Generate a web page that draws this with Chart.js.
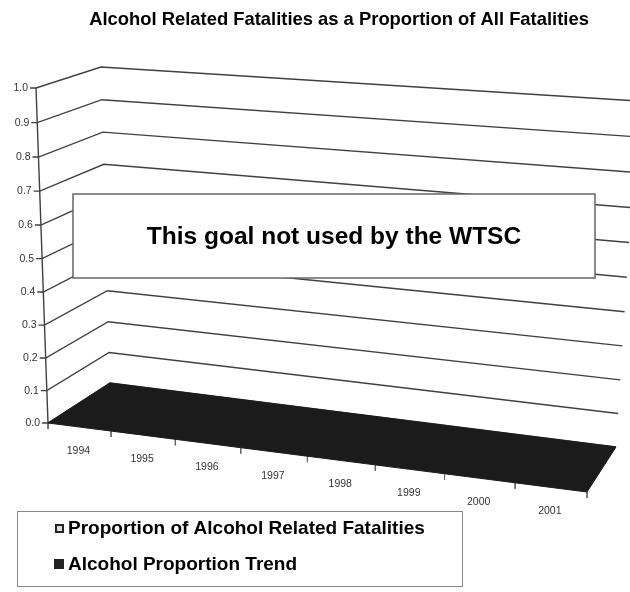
<!DOCTYPE html>
<html>
<head>
<meta charset="utf-8">
<title>Alcohol Related Fatalities as a Proportion of All Fatalities</title>
<script src="https://cdn.jsdelivr.net/npm/chart.js@4.4.1/dist/chart.umd.min.js"></script>
<style>
  html, body { margin: 0; padding: 0; background: #fff; }
  .chart-box { position: relative; width: 630px; height: 592px; }
</style>
</head>
<body>
<div class="chart-box"><canvas id="fatalityChart"></canvas></div>
<script>
const TITLE = 'Alcohol Related Fatalities as a Proportion of All Fatalities';
const NOTE = 'This goal not used by the WTSC';

const years = ['1994', '1995', '1996', '1997', '1998', '1999', '2000', '2001'];
const valueTicks = [0.0, 0.1, 0.2, 0.3, 0.4, 0.5, 0.6, 0.7, 0.8, 0.9, 1.0];
const seriesNames = ['Proportion of Alcohol Related Fatalities', 'Alcohol Proportion Trend'];
// no yearly proportions were reported, the trend sits on the floor
const proportionValues = [null, null, null, null, null, null, null, null];
const trendValues = [0, 0, 0, 0, 0, 0, 0, 0];

// screen corners of the 3D plot box, at value 0 (lo) and at the top value (hi)
const FRONT_LEFT = { lo: [48, 423], hi: [36, 88] };
const BACK_LEFT = { lo: [110, 383], hi: [101, 67] };
const FRONT_RIGHT = { lo: [587, 492], hi: [609, 136] };
const BACK_RIGHT = { lo: [616, 447], hi: [638, 101] };
const DEPTH_K = 0.072; // foreshortening along the year axis
const RISE_K = 0.037;  // foreshortening along the value axis
const VALUE_MAX = valueTicks[valueTicks.length - 1];

const INK = '#404040';
const FONT = '"Liberation Sans", Arial, sans-serif';

function ease(s, k) { return s * (1 - k) / (1 - k * s); }
function lerp(a, b, t) { return [a[0] + (b[0] - a[0]) * t, a[1] + (b[1] - a[1]) * t]; }

// c: position along the years (0..years.length), d: depth 0 front .. 1 back, v: value
function project(c, d, v) {
  const u = ease(c / years.length, DEPTH_K);
  const w = ease(v / VALUE_MAX, RISE_K);
  const edge = e => lerp(e.lo, e.hi, w);
  const front = lerp(edge(FRONT_LEFT), edge(FRONT_RIGHT), u);
  const back = lerp(edge(BACK_LEFT), edge(BACK_RIGHT), u);
  const p = lerp(front, back, d);
  return { x: p[0], y: p[1] };
}

function lineSet(points, color, width) {
  return {
    data: points,
    showLine: true,
    borderColor: color,
    borderWidth: width,
    pointRadius: 0,
    fill: false,
    tension: 0
  };
}

// trend area: ribbon through the year centres, spanning the full depth
function trendShape() {
  const n = years.length;
  const front = [project(0, 0, trendValues[0])];
  years.forEach((y, i) => front.push(project(i + 0.5, 0, trendValues[i])));
  front.push(project(n, 0, trendValues[n - 1]));
  const back = [project(n, 1, trendValues[n - 1])];
  for (let i = n - 1; i >= 0; i--) back.push(project(i + 0.5, 1, trendValues[i]));
  back.push(project(0, 1, trendValues[0]));
  return [...front, ...back, front[0]];
}

const datasets = [];

datasets.push({
  label: seriesNames[1],
  data: trendShape(),
  showLine: true,
  borderColor: '#1b1b1b',
  backgroundColor: '#1b1b1b',
  borderWidth: 1,
  pointRadius: 0,
  fill: 'shape',
  tension: 0
});

datasets.push({
  label: seriesNames[0],
  data: proportionValues.map((v, i) => v === null ? { x: null, y: null } : project(i + 0.5, 0.5, v)),
  showLine: false,
  pointRadius: 3,
  backgroundColor: '#fff',
  borderColor: '#222'
});

// front value axis
datasets.push(lineSet([project(0, 0, 0), project(0, 0, VALUE_MAX)], INK, 1.4));

// gridlines: tick, side wall, back wall
valueTicks.forEach(t => {
  const a = project(0, 0, t);
  datasets.push(lineSet([
    { x: a.x - 6, y: a.y }, a, project(0, 1, t), project(years.length, 1, t)
  ], INK, 1.4));
});

// year boundary ticks under the front edge
for (let b = 0; b <= years.length; b++) {
  const p = project(b, 0, 0);
  datasets.push(lineSet([p, { x: p.x, y: p.y + 6 }], '#666', 1));
}

const labelsPlugin = {
  id: 'labels3d',
  afterDatasetsDraw(chart) {
    const { ctx, scales } = chart;
    const X = v => scales.x.getPixelForValue(v);
    const Y = v => scales.y.getPixelForValue(v);
    ctx.save();

    // value tick labels
    ctx.fillStyle = '#333';
    ctx.font = '10.5px ' + FONT;
    ctx.textAlign = 'right';
    ctx.textBaseline = 'middle';
    valueTicks.forEach(t => {
      const p = project(0, 0, t);
      ctx.fillText(t.toFixed(1), X(p.x - 8), Y(p.y));
    });

    // year labels
    ctx.textAlign = 'center';
    years.forEach((yr, i) => {
      const p = project(i + 0.5, 0, 0);
      ctx.fillText(yr, X(p.x - 1), Y(p.y + 24));
    });

    // note box
    ctx.fillStyle = '#fff';
    ctx.fillRect(73, 194, 522, 84);
    ctx.strokeStyle = '#666';
    ctx.lineWidth = 1.5;
    ctx.strokeRect(73, 194, 522, 84);
    ctx.fillStyle = '#000';
    ctx.font = 'bold 24.5px ' + FONT;
    ctx.fillText(NOTE, 334, 237);

    // title
    ctx.font = 'bold 18.4px ' + FONT;
    ctx.fillText(TITLE, 339, 20);

    // legend
    ctx.strokeStyle = '#888';
    ctx.lineWidth = 1;
    ctx.strokeRect(17.5, 511.5, 445, 75);
    ctx.textAlign = 'left';
    ctx.font = 'bold 19px ' + FONT;
    const rows = [528, 564];
    // hollow marker for the yearly values
    ctx.fillStyle = '#222';
    ctx.fillRect(55, rows[0] - 4, 9, 9);
    ctx.fillStyle = '#ddd';
    ctx.fillRect(57, rows[0] - 2, 5, 5);
    // solid marker for the trend
    ctx.fillStyle = '#222';
    ctx.fillRect(54, rows[1] - 5, 10, 10);
    ctx.fillStyle = '#000';
    seriesNames.forEach((name, i) => ctx.fillText(name, 68, rows[i] + 1));

    ctx.restore();
  }
};

new Chart(document.getElementById('fatalityChart'), {
  type: 'scatter',
  data: { datasets },
  options: {
    responsive: true,
    maintainAspectRatio: false,
    animation: false,
    events: [],
    layout: { padding: 0, autoPadding: false },
    scales: {
      x: { type: 'linear', min: 0, max: 630, display: false },
      y: { type: 'linear', min: 0, max: 592, reverse: true, display: false }
    },
    plugins: {
      legend: { display: false },
      tooltip: { enabled: false }
    }
  },
  plugins: [labelsPlugin]
});
</script>
</body>
</html>
